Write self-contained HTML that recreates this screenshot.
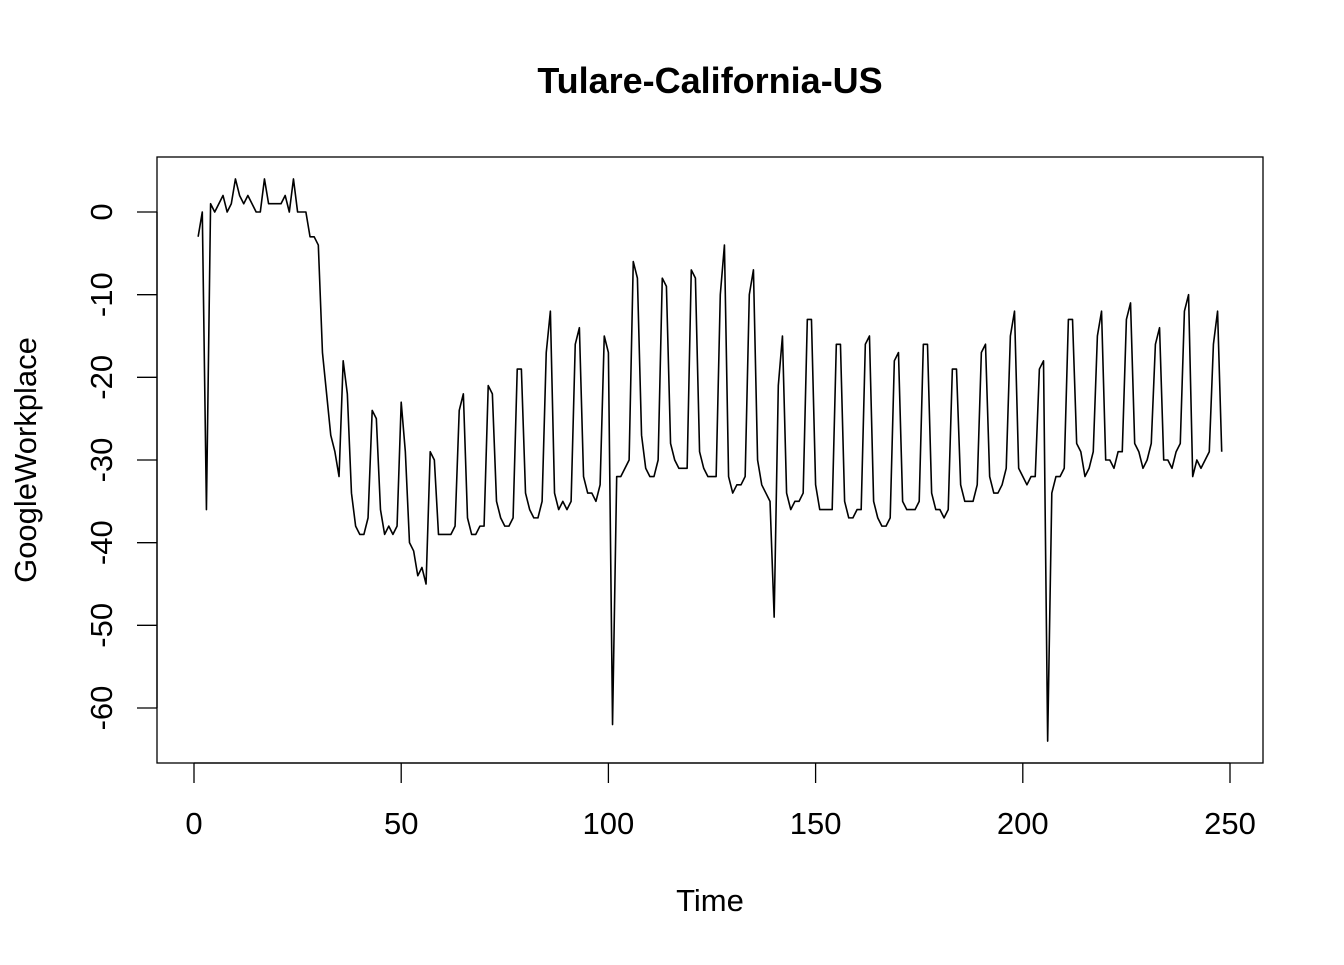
<!DOCTYPE html>
<html><head><meta charset="utf-8"><style>
body{margin:0;background:#fff;}
svg text{font-family:"Liberation Sans",Arial,sans-serif;fill:#000;}
</style></head><body>
<svg id="chart" width="1344" height="960" viewBox="0 0 1344 960">
<text x="710" y="93" font-size="36" font-weight="bold" text-anchor="middle">Tulare-California-US</text>
<rect x="157" y="157" width="1106" height="606" fill="none" stroke="#000" stroke-width="1.3"/>
<text x="710" y="911" font-size="31" text-anchor="middle">Time</text>
<text transform="translate(36,460) rotate(-90)" font-size="31" text-anchor="middle">GoogleWorkplace</text>
<g id="xaxis"></g>
<g id="yaxis"></g>
<path id="series" fill="none" stroke="#000" stroke-width="1.6" stroke-linejoin="round"/>
</svg>
<script>
const values = [-3,0,-36,1,0,1,2,0,1,4,2,1,2,1,0,0,4,1,1,1,1,2,0,4,0,0,0,-3,-3,-4,
-17,-22,-27,-29,-32,-18,-22,-34,-38,-39,-39,-37,-24,-25,-36,-39,-38,-39,-38,-23,
-29,-40,-41,-44,-43,-45,-29,-30,-39,-39,-39,-39,-38,-24,-22,-37,-39,-39,-38,-38,
-21,-22,-35,-37,-38,-38,-37,-19,-19,-34,-36,-37,-37,-35,-17,-12,-34,-36,-35,-36,
-35,-16,-14,-32,-34,-34,-35,-33,-15,-17,-62,-32,-32,-31,-30,-6,-8,-27,-31,-32,
-32,-30,-8,-9,-28,-30,-31,-31,-31,-7,-8,-29,-31,-32,-32,-32,-10,-4,-32,-34,
-33,-33,-32,-10,-7,-30,-33,-34,-35,-49,-21,-15,-34,-36,-35,-35,-34,-13,-13,-33,
-36,-36,-36,-36,-16,-16,-35,-37,-37,-36,-36,-16,-15,-35,-37,-38,-38,-37,-18,-17,
-35,-36,-36,-36,-35,-16,-16,-34,-36,-36,-37,-36,-19,-19,-33,-35,-35,-35,-33,-17,
-16,-32,-34,-34,-33,-31,-15,-12,-31,-32,-33,-32,-32,-19,-18,-64,-34,-32,-32,-31,
-13,-13,-28,-29,-32,-31,-29,-15,-12,-30,-30,-31,-29,-29,-13,-11,-28,-29,-31,-30,
-28,-16,-14,-30,-30,-31,-29,-28,-12,-10,-32,-30,-31,-30,-29,-16,-12,-29];
const xTicks = [0,50,100,150,200,250];
const yTicks = [0,-10,-20,-30,-40,-50,-60];
const NS="http://www.w3.org/2000/svg";
function xs(t){return 194+t*(1230-194)/250;}
function ys(v){return 212+(0-v)*(708-212)/60;}
let d="";
values.forEach((v,i)=>{d+=(i?"L":"M")+xs(i+1).toFixed(2)+","+ys(v).toFixed(2);});
document.getElementById("series").setAttribute("d",d);
const xa=document.getElementById("xaxis");
let l=document.createElementNS(NS,"line");
l.setAttribute("x1",xs(xTicks[0]));l.setAttribute("x2",xs(xTicks[xTicks.length-1]));
l.setAttribute("y1",763);l.setAttribute("y2",763);l.setAttribute("stroke","#000");l.setAttribute("stroke-width","1.3");


xa.appendChild(l);
xTicks.forEach(t=>{
 const tk=document.createElementNS(NS,"line");
 tk.setAttribute("x1",xs(t));tk.setAttribute("x2",xs(t));tk.setAttribute("y1",763);tk.setAttribute("y2",783);
 tk.setAttribute("stroke","#000");tk.setAttribute("stroke-width","1.3");
 
 
 xa.appendChild(tk);
 const tx=document.createElementNS(NS,"text");
 tx.setAttribute("x",xs(t));tx.setAttribute("y",834);tx.setAttribute("font-size","31");tx.setAttribute("text-anchor","middle");
 tx.textContent=t;
 
 
 xa.appendChild(tx);
});
const ya=document.getElementById("yaxis");
let l2=document.createElementNS(NS,"line");
l2.setAttribute("x1",157);l2.setAttribute("x2",157);
l2.setAttribute("y1",ys(yTicks[0]));l2.setAttribute("y2",ys(yTicks[yTicks.length-1]));l2.setAttribute("stroke","#000");l2.setAttribute("stroke-width","1.3");


ya.appendChild(l2);
yTicks.forEach(v=>{
 const tx=document.createElementNS(NS,"text");
 tx.setAttribute("transform","translate(112,"+ys(v)+") rotate(-90)");
 tx.setAttribute("font-size","31");tx.setAttribute("text-anchor","middle");
 tx.textContent=v;
 
 
 ya.appendChild(tx);
 const tk=document.createElementNS(NS,"line");
 tk.setAttribute("x1",137);tk.setAttribute("x2",157);tk.setAttribute("y1",ys(v));tk.setAttribute("y2",ys(v));
 tk.setAttribute("stroke","#000");tk.setAttribute("stroke-width","1.3");
 
 
 ya.appendChild(tk);
});
</script>
</body></html>
